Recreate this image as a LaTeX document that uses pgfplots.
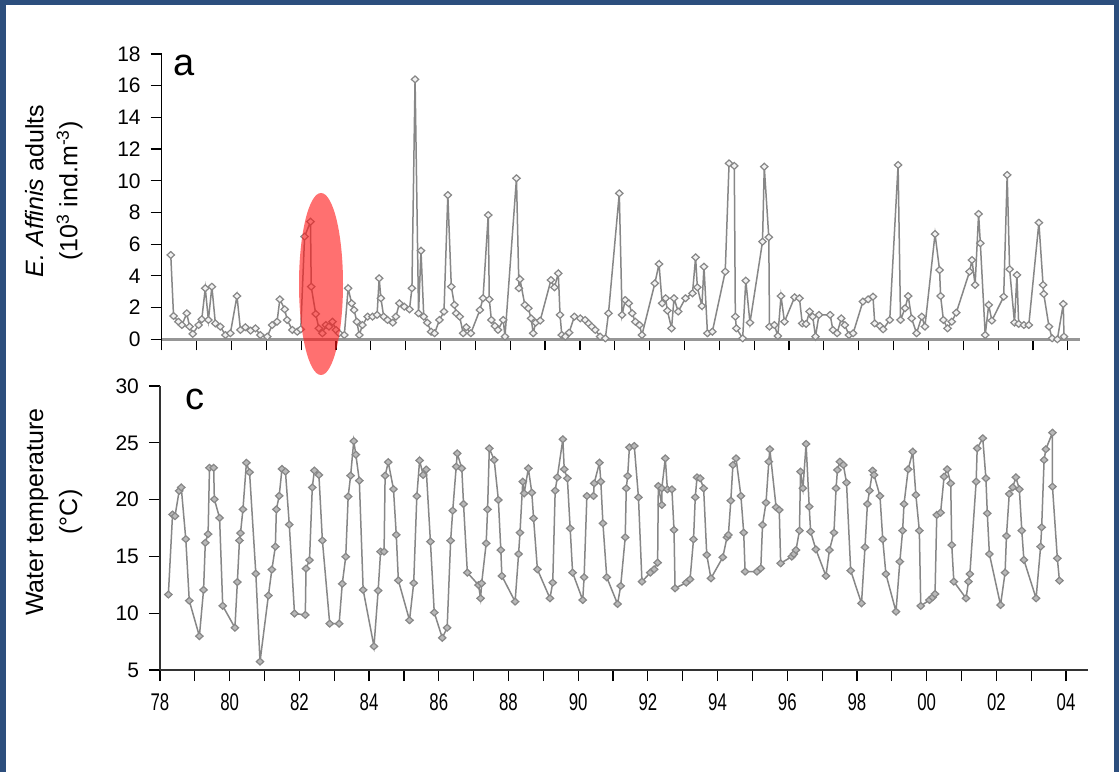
\documentclass[border=0pt]{standalone}
\usepackage{fontspec}
\setmainfont{Liberation Sans}
\usepackage{graphicx}
\usepackage{pgfplots}
\pgfplotsset{compat=1.18}
\definecolor{frameblue}{RGB}{44,78,125}
\definecolor{lineg}{RGB}{135,135,135}
\definecolor{axg}{RGB}{150,150,150}
\newcommand{\xl}[1]{\scalebox{0.8}[1.15]{#1}}

\pgfplotsset{
  panel/.style={
    scale only axis, anchor=south west,
    axis x line*=bottom, axis y line*=left,
    tick align=outside, major tick length=5.5pt, minor tick length=5.5pt,
    tick style={black, line width=0.6pt},
    axis line style={line width=0.7pt},
    ticklabel style={font=\fontsize{10.5}{12}\selectfont},
    yticklabel style={xshift=-1.5pt},
    xticklabel style={yshift=-3pt},
    /pgf/number format/assume math mode=true,
    xtick={78,80,...,104}, minor xtick={79,81,...,103},
    clip=false,
  },
  series/.style={
    color=lineg, line width=0.75pt,
    mark=diamond*, mark size=1.7pt,
    mark options={solid, xscale=1.45, draw=lineg, line width=0.6pt, fill=#1},
  },
}

\begin{document}
\begin{tikzpicture}[x=0.5pt,y=0.5pt]
\useasboundingbox (0,0) rectangle (1119,772);
\fill[white] (0,0) rectangle (1119,772);
\fill[frameblue] (0,0) rectangle (6,772);
\fill[frameblue] (0,767) rectangle (1119,772);
\fill[frameblue] (1114,0) rectangle (1119,772);

% panel a
\begin{axis}[panel,
  at={(80.85pt,216.35pt)}, width=459.15pt, height=142.65pt,
  xmin=78, xmax=104.35, ymin=0, ymax=18, ytick={0,2,...,18},
  xticklabels={},
  x axis line style={draw=axg, line width=1.6pt},
]
\addplot[series=gray!10] coordinates {
(78.26,5.32) (78.34,1.47) (78.48,1.11) (78.58,0.90) (78.72,1.64) (78.80,0.80)
(78.89,0.34) (79.06,0.90) (79.15,1.26) (79.25,3.22) (79.34,1.22) (79.44,3.32)
(79.54,1.00) (79.68,0.80) (79.83,0.27) (79.97,0.38) (80.16,2.73) (80.26,0.59)
(80.40,0.76) (80.55,0.55) (80.69,0.69) (80.83,0.27) (81.03,0.17) (81.17,0.90)
(81.31,1.11) (81.39,2.52) (81.53,1.89) (81.60,1.22) (81.75,0.59) (81.89,0.48)
(81.99,0.63) (82.10,6.48) (82.27,7.42) (82.29,3.32) (82.42,1.60) (82.51,0.69)
(82.61,0.38) (82.71,0.90) (82.80,0.80) (82.90,1.11) (83.00,0.59) (83.09,0.38)
(83.24,0.27) (83.35,3.22) (83.45,2.27) (83.52,1.85) (83.60,1.11) (83.67,0.27)
(83.76,0.90) (83.91,1.43) (84.05,1.43) (84.18,1.54) (84.24,3.85) (84.29,2.59)
(84.37,1.43) (84.48,1.22) (84.63,1.05) (84.72,1.43) (84.82,2.27) (84.96,2.06)
(85.11,1.89) (85.18,3.22) (85.27,16.40) (85.37,1.64) (85.44,5.59) (85.52,1.43)
(85.62,1.05) (85.73,0.48) (85.83,0.38) (85.97,1.22) (86.10,1.75) (86.21,9.10)
(86.31,3.32) (86.40,2.17) (86.45,1.64) (86.55,1.43) (86.65,0.38) (86.74,0.76)
(86.87,0.38) (87.13,1.85) (87.22,2.59) (87.37,7.84) (87.40,2.52) (87.46,1.22)
(87.56,0.84) (87.65,0.59) (87.80,1.22) (87.85,0.17) (88.18,10.16) (88.25,3.22)
(88.28,3.79) (88.42,2.17) (88.52,1.96) (88.60,1.32) (88.66,0.38) (88.73,1.05)
(88.86,1.18) (89.17,3.74) (89.27,3.28) (89.38,4.16) (89.43,1.54) (89.48,0.27)
(89.58,0.17) (89.69,0.42) (89.84,1.43) (90.01,1.32) (90.15,1.22) (90.25,1.00)
(90.34,0.80) (90.44,0.59) (90.58,0.17) (90.73,0.06) (90.82,1.64) (91.13,9.21)
(91.21,1.54) (91.30,2.48) (91.40,2.27) (91.50,1.64) (91.59,1.11) (91.71,0.90)
(91.78,0.27) (92.15,3.53) (92.27,4.75) (92.36,2.27) (92.46,2.59) (92.51,1.81)
(92.63,0.69) (92.70,2.59) (92.82,1.75) (93.03,2.59) (93.23,2.90) (93.32,5.17)
(93.37,3.28) (93.50,2.10) (93.56,4.58) (93.66,0.38) (93.80,0.48) (94.17,4.27)
(94.28,11.10) (94.43,10.94) (94.46,1.43) (94.49,0.69) (94.67,0.06) (94.76,3.70)
(94.88,1.05) (95.24,6.16) (95.29,10.89) (95.42,6.44) (95.44,0.80) (95.58,0.90)
(95.68,0.21) (95.77,2.73) (95.87,1.11) (96.16,2.65) (96.30,2.59) (96.38,1.00)
(96.49,0.97) (96.59,1.75) (96.68,1.43) (96.76,0.17) (96.86,1.54) (97.18,1.54)
(97.26,0.59) (97.38,0.38) (97.50,1.32) (97.60,0.90) (97.72,0.27) (97.84,0.38)
(98.12,2.38) (98.27,2.52) (98.41,2.69) (98.46,1.00) (98.61,0.84) (98.70,0.63)
(98.89,1.22) (99.13,11.00) (99.20,1.22) (99.33,1.96) (99.42,2.73) (99.52,1.32)
(99.66,0.38) (99.81,1.43) (99.90,0.80) (100.19,6.64) (100.32,4.37) (100.35,2.73)
(100.43,1.22) (100.55,0.69) (100.67,1.11) (100.80,1.68) (101.18,4.27) (101.25,5.00)
(101.34,3.43) (101.44,7.91) (101.49,6.06) (101.63,0.27) (101.73,2.17) (101.82,1.18)
(102.16,2.69) (102.26,10.37) (102.33,4.42) (102.47,1.05) (102.54,4.06) (102.59,0.97)
(102.74,0.90) (102.88,0.90) (103.17,7.36) (103.29,3.43) (103.31,2.86) (103.46,0.80)
(103.55,0.06) (103.70,0.00) (103.87,2.23) (103.89,0.17)
};
\end{axis}

% panel c
\begin{axis}[panel,
  at={(80pt,51pt)}, width=464pt, height=142pt,
  xmin=78, xmax=104.63, ymin=5, ymax=30, ytick={5,10,...,30},
  xticklabels={\xl{78},\xl{80},\xl{82},\xl{84},\xl{86},\xl{88},\xl{90},
    \xl{92},\xl{94},\xl{96},\xl{98},\xl{00},\xl{02},\xl{04}},
  axis line style={draw=black!80},
]
\addplot[series=gray!55] coordinates {
(78.24,11.64) (78.36,18.69) (78.43,18.54) (78.55,20.77) (78.61,21.07) (78.74,16.52)
(78.84,11.10) (79.13,7.98) (79.25,12.05) (79.30,16.20) (79.38,16.96) (79.42,22.80)
(79.54,22.80) (79.56,20.03) (79.71,18.39) (79.80,10.65) (80.15,8.72) (80.22,12.74)
(80.28,16.40) (80.31,17.05) (80.38,19.14) (80.48,23.24) (80.57,22.41) (80.75,13.48)
(80.87,5.74) (81.11,11.55) (81.21,13.84) (81.31,15.86) (81.34,19.14) (81.42,20.33)
(81.50,22.70) (81.60,22.47) (81.71,17.80) (81.86,9.97) (82.17,9.85) (82.19,13.93)
(82.29,14.67) (82.37,21.07) (82.43,22.56) (82.56,22.17) (82.66,16.40) (82.87,9.08)
(83.14,9.08) (83.23,12.59) (83.33,14.97) (83.40,20.27) (83.47,22.11) (83.56,25.15)
(83.62,23.96) (83.72,21.67) (83.83,12.05) (84.14,7.08) (84.26,11.99) (84.33,15.42)
(84.43,15.42) (84.46,22.11) (84.55,23.30) (84.70,20.92) (84.78,16.90) (84.84,12.89)
(85.16,9.38) (85.28,12.65) (85.37,20.30) (85.45,23.45) (85.55,22.17) (85.64,22.65)
(85.76,16.30) (85.87,10.06) (86.10,7.83) (86.24,8.72) (86.34,16.39) (86.40,19.03)
(86.50,22.90) (86.53,24.07) (86.66,22.75) (86.71,19.61) (86.82,13.57) (87.14,12.48)
(87.20,11.31) (87.23,12.63) (87.36,16.15) (87.40,19.14) (87.45,24.51) (87.59,23.49)
(87.71,19.97) (87.78,15.56) (87.81,13.28) (88.19,11.02) (88.29,15.21) (88.33,17.09)
(88.41,21.58) (88.45,20.55) (88.57,22.75) (88.67,20.61) (88.72,18.35) (88.83,13.86)
(89.19,11.31) (89.27,12.69) (89.34,20.79) (89.40,21.96) (89.56,25.31) (89.60,22.67)
(89.69,21.87) (89.77,17.47) (89.84,13.57) (90.13,11.16) (90.17,13.16) (90.25,20.32)
(90.44,20.32) (90.46,21.43) (90.61,23.25) (90.65,21.58) (90.71,17.91) (90.82,13.16)
(91.13,10.81) (91.22,12.40) (91.35,16.68) (91.38,20.99) (91.42,22.08) (91.47,24.60)
(91.61,24.72) (91.73,20.20) (91.83,12.78) (92.07,13.57) (92.18,13.86) (92.28,14.45)
(92.30,21.20) (92.40,19.53) (92.40,20.99) (92.50,23.63) (92.56,20.90) (92.69,20.90)
(92.75,17.33) (92.78,12.19) (93.10,12.69) (93.21,12.98) (93.31,16.50) (93.36,20.20)
(93.41,21.96) (93.50,21.87) (93.60,20.99) (93.69,15.13) (93.81,13.07) (94.15,14.92)
(94.27,16.68) (94.31,16.89) (94.38,19.91) (94.44,23.05) (94.53,23.63) (94.67,20.32)
(94.75,17.09) (94.79,13.66) (95.13,13.66) (95.24,13.95) (95.29,17.77) (95.39,19.73)
(95.47,23.34) (95.50,24.43) (95.68,19.32) (95.77,19.09) (95.81,14.39) (96.13,14.98)
(96.19,15.21) (96.25,15.56) (96.35,17.27) (96.38,22.46) (96.45,21.00) (96.54,24.90)
(96.63,19.38) (96.67,17.18) (96.82,15.62) (97.11,13.28) (97.21,15.56) (97.34,17.09)
(97.40,20.99) (97.44,22.61) (97.51,23.34) (97.61,23.05) (97.70,21.49) (97.82,13.75)
(98.13,10.87) (98.23,15.80) (98.30,19.61) (98.36,20.79) (98.45,22.55) (98.49,22.17)
(98.66,20.32) (98.74,16.50) (98.83,13.45) (99.12,10.14) (99.23,14.54) (99.31,17.27)
(99.35,19.61) (99.47,22.67) (99.60,24.22) (99.69,20.41) (99.79,17.27) (99.83,10.64)
(100.08,11.16) (100.17,11.40) (100.24,11.69) (100.29,18.65) (100.40,18.85) (100.50,22.02)
(100.59,22.67) (100.69,21.43) (100.72,16.00) (100.78,12.78) (101.13,11.31) (101.20,12.78)
(101.24,13.45) (101.42,21.58) (101.45,24.51) (101.61,25.40) (101.70,21.87) (101.74,18.79)
(101.80,15.21) (102.12,10.72) (102.25,13.57) (102.29,16.80) (102.37,20.50) (102.47,21.08)
(102.56,21.96) (102.66,20.91) (102.73,17.27) (102.79,14.69) (103.14,11.31) (103.27,15.86)
(103.30,17.56) (103.37,23.49) (103.42,24.43) (103.61,25.89) (103.61,21.14) (103.75,14.83)
(103.81,12.87)
};
\end{axis}

% highlight
\fill[red!90!white, opacity=0.62] (321,488) ellipse [x radius=22, y radius=91];

% labels
\node[font=\fontsize{19}{22}\selectfont] at (184,707) {a};
\node[font=\fontsize{19}{22}\selectfont] at (195,373) {c};
\node[rotate=90, align=center, font=\fontsize{12.5}{17}\selectfont]
  at (54,581) {\textit{E. Affinis} adults\\(10\textsuperscript{3} ind.m\textsuperscript{-3})};
\node[rotate=90, align=center, font=\fontsize{12.5}{17}\selectfont]
  at (54,260) {Water temperature\\(°C)};
\end{tikzpicture}
\end{document}
